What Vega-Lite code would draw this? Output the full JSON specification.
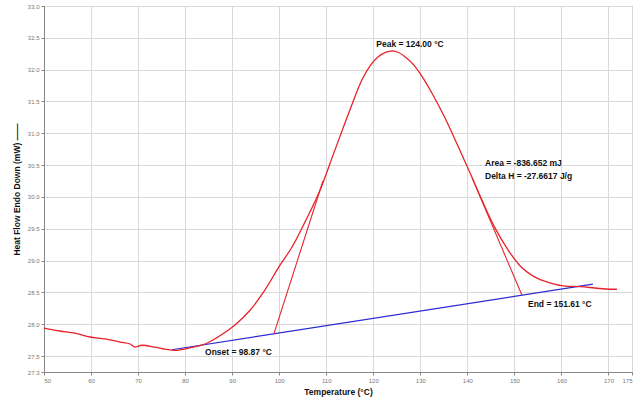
{
  "$schema": "https://vega.github.io/schema/vega-lite/v6.json",
  "width": 588,
  "height": 366,
  "autosize": {"type": "none"},
  "padding": {"left": 44, "top": 6, "right": 10, "bottom": 33},
  "background": "white",
  "config": {
    "view": {"stroke": "#bbbbbb"},
    "font": "Liberation Sans",
    "axis": {
      "labelFont": "Liberation Sans",
      "labelFontSize": 6,
      "labelColor": "#777777",
      "titleFont": "Liberation Sans",
      "titleFontSize": 8.5,
      "titleFontWeight": "bold",
      "titleColor": "#111111",
      "gridColor": "#d9d9d9",
      "gridWidth": 1,
      "domainColor": "#888888",
      "tickColor": "#888888",
      "tickSize": 3
    }
  },
  "datasets": {
    "curve": [
      {"t": 50.0, "hf": 27.94}, {"t": 53.4, "hf": 27.894}, {"t": 56.6, "hf": 27.86},
      {"t": 59.78, "hf": 27.80}, {"t": 62.97, "hf": 27.77}, {"t": 66.16, "hf": 27.72},
      {"t": 68.3, "hf": 27.69}, {"t": 69.35, "hf": 27.64}, {"t": 70.83, "hf": 27.67},
      {"t": 73.6, "hf": 27.64}, {"t": 75.7, "hf": 27.61}, {"t": 77.85, "hf": 27.59},
      {"t": 81.04, "hf": 27.63}, {"t": 84.23, "hf": 27.69}, {"t": 87.4, "hf": 27.82},
      {"t": 90.6, "hf": 27.99}, {"t": 93.8, "hf": 28.22}, {"t": 96.98, "hf": 28.54},
      {"t": 100.17, "hf": 28.93}, {"t": 102.7, "hf": 29.21}, {"t": 105.5, "hf": 29.61},
      {"t": 108.7, "hf": 30.11}, {"t": 111.86, "hf": 30.74}, {"t": 115.05, "hf": 31.37},
      {"t": 117.6, "hf": 31.84}, {"t": 119.5, "hf": 32.08}, {"t": 121.0, "hf": 32.20},
      {"t": 122.6, "hf": 32.27}, {"t": 124.0, "hf": 32.295}, {"t": 125.4, "hf": 32.27},
      {"t": 126.8, "hf": 32.20}, {"t": 128.4, "hf": 32.09},
      {"t": 129.93, "hf": 31.94}, {"t": 132.48, "hf": 31.63}, {"t": 135.25, "hf": 31.24},
      {"t": 138.0, "hf": 30.80}, {"t": 140.56, "hf": 30.38}, {"t": 143.1, "hf": 29.95},
      {"t": 145.9, "hf": 29.51}, {"t": 148.64, "hf": 29.17}, {"t": 151.19, "hf": 28.92},
      {"t": 154.38, "hf": 28.74}, {"t": 157.57, "hf": 28.65}, {"t": 160.76, "hf": 28.60},
      {"t": 163.95, "hf": 28.59}, {"t": 167.1, "hf": 28.57}, {"t": 170.3, "hf": 28.55},
      {"t": 171.8, "hf": 28.55}
    ],
    "baseline": [
      {"t": 77.2, "hf": 27.60}, {"t": 166.7, "hf": 28.63}
    ],
    "tangents": [
      {"line": "onset", "t": 98.87, "hf": 27.85}, {"line": "onset", "t": 109.3, "hf": 30.25},
      {"line": "end", "t": 151.61, "hf": 28.456}, {"line": "end", "t": 141.0, "hf": 30.30}
    ],
    "peakLabel": [
      {"t": 127.8, "hf": 32.40, "txt": "Peak = 124.00 °C"}
    ],
    "leftLabels": [
      {"t": 143.75, "hf": 30.53, "txt": "Area = -836.652 mJ"},
      {"t": 143.75, "hf": 30.33, "txt": "Delta H = -27.6617 J/g"},
      {"t": 84.23, "hf": 27.564, "txt": "Onset = 98.87 °C"},
      {"t": 152.89, "hf": 28.318, "txt": "End = 151.61 °C"}
    ]
  },
  "encoding": {
    "x": {
      "field": "t", "type": "quantitative",
      "scale": {"domain": [50, 175], "nice": false, "zero": false},
      "axis": {"title": "Temperature (°C)", "values": [50, 60, 70, 80, 90, 100, 110, 120, 130, 140, 150, 160, 170, 175], "labelPadding": 2, "titlePadding": 4}
    },
    "y": {
      "field": "hf", "type": "quantitative",
      "scale": {"domain": [27.25, 33], "nice": false, "zero": false},
      "axis": {"title": "Heat Flow Endo Down (mW) ——", "values": [27.25, 27.5, 28, 28.5, 29, 29.5, 30, 30.5, 31, 31.5, 32, 32.5, 33], "format": ".1f", "labelPadding": 2, "titlePadding": 6}
    }
  },
  "layer": [
    {
      "data": {"name": "baseline"},
      "mark": {"type": "line", "color": "#2b2bd6", "strokeWidth": 1.2}
    },
    {
      "data": {"name": "tangents"},
      "mark": {"type": "line", "color": "#e3262d", "strokeWidth": 1.1},
      "encoding": {"detail": {"field": "line"}}
    },
    {
      "data": {"name": "curve"},
      "mark": {"type": "line", "color": "#e8222a", "strokeWidth": 1.3, "interpolate": "monotone"}
    },
    {
      "data": {"name": "peakLabel"},
      "mark": {"type": "text", "fontSize": 8.5, "fontWeight": "bold", "color": "#111111", "baseline": "middle", "align": "center", "font": "Liberation Sans"},
      "encoding": {"text": {"field": "txt"}}
    },
    {
      "data": {"name": "leftLabels"},
      "mark": {"type": "text", "fontSize": 8.5, "fontWeight": "bold", "color": "#111111", "baseline": "middle", "align": "left", "font": "Liberation Sans"},
      "encoding": {"text": {"field": "txt"}}
    }
  ]
}
